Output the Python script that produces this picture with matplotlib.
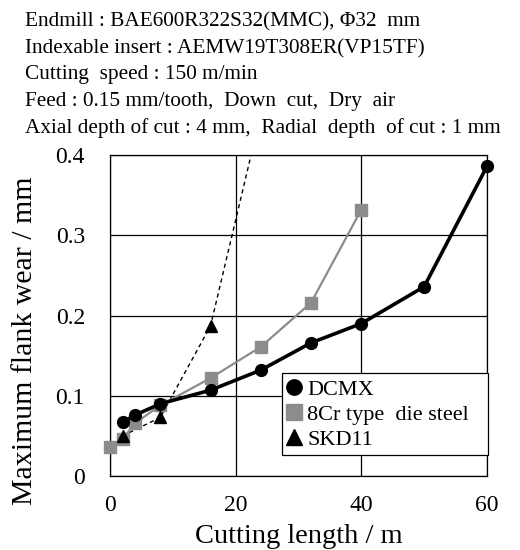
import matplotlib.pyplot as plt

plt.rcParams['font.family'] = ['Liberation Serif', 'DejaVu Serif']

# cutting length (m) and flank wear (mm)
dcmx_x = [2, 4, 8, 16, 24, 32, 40, 50, 60]
dcmx_y = [0.067, 0.076, 0.090, 0.107, 0.132, 0.166, 0.190, 0.236, 0.386]

cr8_x = [0, 2, 4, 8, 16, 24, 32, 40]
cr8_y = [0.036, 0.046, 0.066, 0.088, 0.122, 0.161, 0.216, 0.332]

skd_x = [2, 8, 16, 24]
skd_y = [0.050, 0.073, 0.187, 0.451]

info = ["Endmill : BAE600R322S32(MMC), \u03a632  mm",
        "Indexable insert : AEMW19T308ER(VP15TF)",
        "Cutting  speed : 150 m/min",
        "Feed : 0.15 mm/tooth,  Down  cut,  Dry  air",
        "Axial depth of cut : 4 mm,  Radial  depth  of cut : 1 mm"]

fig = plt.figure(figsize=(5.2, 5.5), dpi=100)
ax = fig.add_axes([0.2115, 0.1345, 0.725, 0.5835])

ax.plot(skd_x, skd_y, '--', color='black', lw=1.0, dashes=(3, 2.5), zorder=3)
ax.plot(skd_x, skd_y, '^', color='black', ms=8.5, ls='none', zorder=6, label='SKD11')
ax.plot(cr8_x, cr8_y, '-', color='#8c8c8c', lw=1.6, zorder=4, clip_on=False)
ax.plot(cr8_x, cr8_y, 's', color='#8c8c8c', ms=8.5, ls='none', zorder=4,
        label='8Cr type  die steel', clip_on=False)
ax.plot(dcmx_x, dcmx_y, '-', color='black', lw=2.6, zorder=5, clip_on=False)
ax.plot(dcmx_x, dcmx_y, 'o', color='black', ms=8.5, ls='none', zorder=5,
        label='DCMX', clip_on=False)

ax.set_xlim(0, 60)
ax.set_ylim(0, 0.4)
ax.set_xticks([0, 20, 40, 60])
ax.set_yticks([0, 0.1, 0.2, 0.3, 0.4])
ax.set_yticklabels(['0', '0.1', '0.2', '0.3', '0.4'])
ax.tick_params(length=0, labelsize=17)
ax.tick_params(axis='x', pad=14)
ax.tick_params(axis='y', pad=18)
ax.grid(True, color='black', lw=0.9)
for s in ax.spines.values():
    s.set_linewidth(0.9)

ax.set_xlabel('Cutting length / m', fontsize=20.5)
ax.xaxis.set_label_coords(0.5, -0.148)
ax.set_ylabel('Maximum flank wear / mm', fontsize=21.5)
ax.yaxis.set_label_coords(-0.19, 0.42)

h, l = ax.get_legend_handles_labels()
order = [2, 1, 0]
leg = ax.legend([h[i] for i in order], [l[i] for i in order], loc='lower left',
                bbox_to_anchor=(0.456, 0.065, 0.548, 0.252), mode='expand',
                fontsize=16, frameon=True,
                fancybox=False, edgecolor='black', framealpha=1,
                handlelength=0.6, handletextpad=0.3, borderpad=0.25,
                labelspacing=0.2, borderaxespad=0, markerscale=1.3)
leg.get_frame().set_linewidth(0.9)

for i, t in enumerate(info):
    fig.text(25 / 520, 1 - (22 + 26.5 * i) / 550, t, fontsize=15.3, va='center', ha='left')

fig.savefig('out.png', dpi=100)
